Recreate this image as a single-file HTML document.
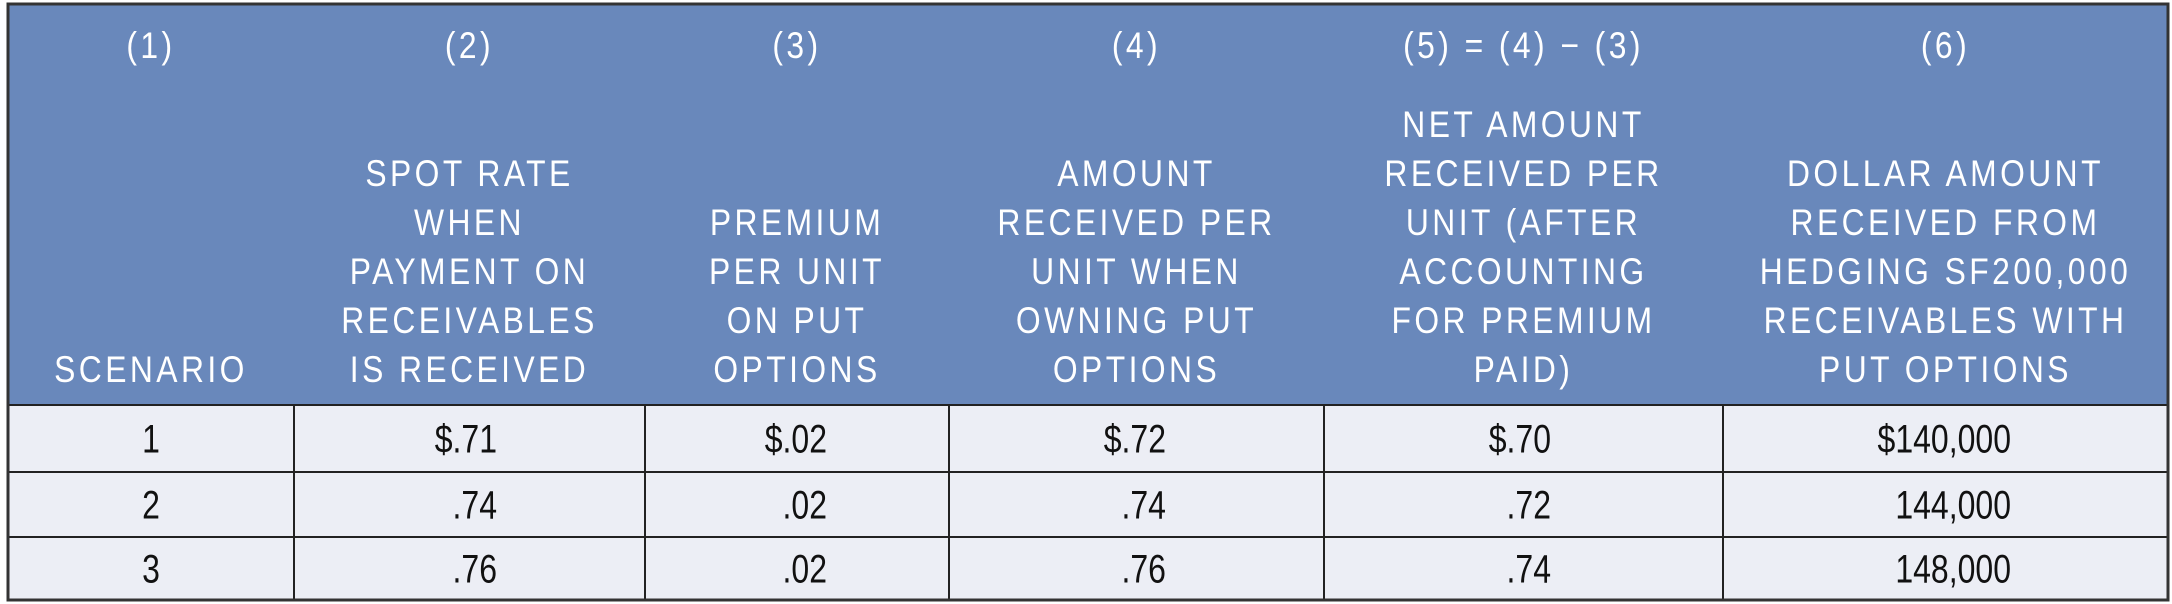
<!DOCTYPE html>
<html><head><meta charset="utf-8"><style>
html,body{margin:0;padding:0;background:#fff;width:2172px;height:604px;overflow:hidden}
svg{display:block}
.h{font-family:"Liberation Sans Narrow","Liberation Sans",sans-serif;font-size:37px;fill:#fff;letter-spacing:4px;text-anchor:middle}
.b{font-family:"Liberation Sans Narrow","Liberation Sans",sans-serif;font-size:40px;fill:#111}
</style></head><body>
<svg id="tbl" width="2172" height="604" viewBox="0 0 2172 604">
<rect x="8" y="4" width="2160" height="401" fill="#6988bb"/>
<rect x="8" y="405" width="2160" height="195" fill="#eceef5"/>
<g id="g"></g>
</svg>
<script>
const colNums=["(1)","(2)","(3)","(4)","(5) = (4) \u2212 (3)","(6)"];
const colTitles=[["SCENARIO"],["SPOT RATE","WHEN","PAYMENT ON","RECEIVABLES","IS RECEIVED"],["PREMIUM","PER UNIT","ON PUT","OPTIONS"],["AMOUNT","RECEIVED PER","UNIT WHEN","OWNING PUT","OPTIONS"],["NET AMOUNT","RECEIVED PER","UNIT (AFTER","ACCOUNTING","FOR PREMIUM","PAID)"],["DOLLAR AMOUNT","RECEIVED FROM","HEDGING SF200,000","RECEIVABLES WITH","PUT OPTIONS"]];
const scenarios=["1","2","3"];
const spotRate=["$.71",".74",".76"];
const premium=["$.02",".02",".02"];
const amountReceived=["$.72",".74",".76"];
const netAmount=["$.70",".72",".74"];
const dollarAmount=["$140,000","144,000","148,000"];
const NS="http://www.w3.org/2000/svg";
const g=document.getElementById('g');
const colX=[8,294,645,949,1324,1723,2168];
const rowY=[405,472,537,600];
const rightX=[null,497,827,1166,1551,2011];
const HS=0.86, BS=0.8;
function mk(t,a){const e=document.createElementNS(NS,t);for(const k in a)e.setAttribute(k,a[k]);g.appendChild(e);return e;}
for(let c=0;c<6;c++){
  const cx=(colX[c]+colX[c+1])/2;
  const n=mk('text',{x:cx/HS,y:58,class:'h',transform:'scale('+HS+',1)'});n.textContent=colNums[c];
  
  
  const L=colTitles[c];
  L.forEach((s,i)=>{const t=mk('text',{x:cx/HS,y:382-(L.length-1-i)*49,class:'h',transform:'scale('+HS+',1)'});t.textContent=s;
    
    });
}
const cols=[scenarios,spotRate,premium,amountReceived,netAmount,dollarAmount];
for(let r=0;r<3;r++){
  const cy=(rowY[r]+rowY[r+1])/2+14;
  for(let c=0;c<6;c++){
    const a=c===0?{x:151/BS,y:cy,class:'b','text-anchor':'middle'}:{x:rightX[c]/BS,y:cy,class:'b','text-anchor':'end'};
    a.transform='scale('+BS+',1)';
    const t=mk('text',a);t.textContent=cols[c][r];
    
    
  }
}
for(let r=1;r<3;r++){const l=mk('line',{x1:8,x2:2168,y1:rowY[r],y2:rowY[r],stroke:'#222','stroke-width':2});
  }
const hl=mk('line',{x1:8,x2:2168,y1:405,y2:405,stroke:'#222','stroke-width':2});

for(let c=1;c<6;c++){const l=mk('line',{x1:colX[c],x2:colX[c],y1:405,y2:600,stroke:'#222','stroke-width':2});
  }
const bd=mk('rect',{x:8,y:4,width:2160,height:596,fill:'none',stroke:'#333','stroke-width':3});

</script>
</body></html>
